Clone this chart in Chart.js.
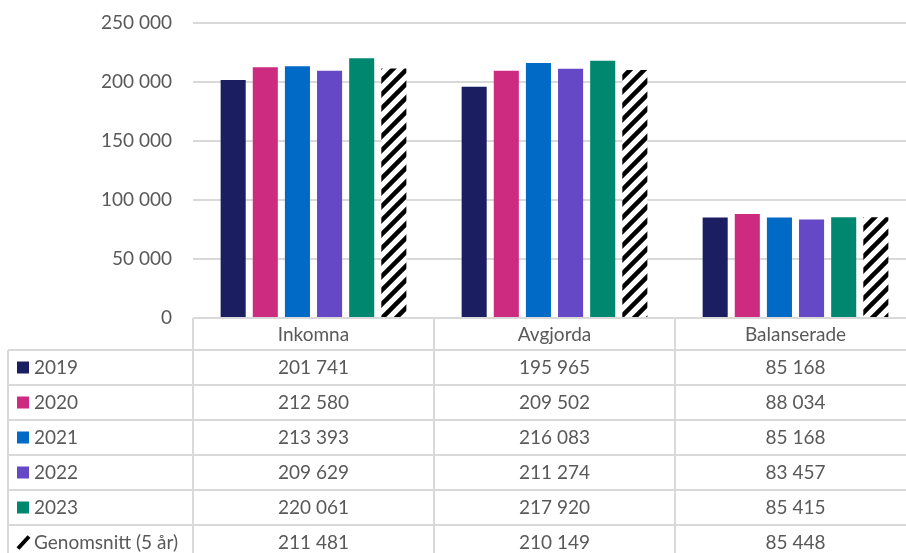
<!DOCTYPE html>
<html>
<head>
<meta charset="utf-8">
<script src="https://cdn.jsdelivr.net/npm/chart.js@4"></script>
<style>
  html, body { margin: 0; padding: 0; background: #fff; overflow: hidden; }
  #wrap { width: 916px; height: 553px; position: relative; }
</style>
</head>
<body>
<div id="wrap"><canvas id="chart"></canvas></div>
<script>
// data
const categories = ["Inkomna", "Avgjorda", "Balanserade"];
const seriesNames = ["2019", "2020", "2021", "2022", "2023", "Genomsnitt (5 år)"];
const v2019 = [201741, 195965, 85168];
const v2020 = [212580, 209502, 88034];
const v2021 = [213393, 216083, 85168];
const v2022 = [209629, 211274, 83457];
const v2023 = [220061, 217920, 85415];
const vAvg = [211481, 210149, 85448];
const yMax = 250000;
const yStep = 50000;

const textColor = "#595959";
const lineColor = "#d9d9d9";
const fontFamily = "Lato, 'Open Sans', sans-serif";
const fontSize = 19;

function fmt(n) {
  return String(Math.round(n)).replace(/\B(?=(\d{3})+(?!\d))/g, " ");
}

// diagonal hatch for the average series
function makeHatch() {
  const s = 14;
  const c = document.createElement("canvas");
  c.width = s; c.height = s;
  const g = c.getContext("2d");
  g.fillStyle = "#fff";
  g.fillRect(0, 0, s, s);
  g.strokeStyle = "#000";
  g.lineWidth = 4.5;
  g.beginPath();
  g.moveTo(-s / 2, s / 2); g.lineTo(s / 2, -s / 2);
  g.moveTo(0, s); g.lineTo(s, 0);
  g.moveTo(s / 2, s * 1.5); g.lineTo(s * 1.5, s / 2);
  g.stroke();
  return g.createPattern(c, "repeat");
}
const hatch = makeHatch();

const colors = ["#1b1f62", "#cd2b7f", "#006ac6", "#6448c5", "#008770", hatch];
const values = [v2019, v2020, v2021, v2022, v2023, vAvg];

const datasets = seriesNames.map((name, i) => ({
  label: name,
  data: values[i],
  backgroundColor: colors[i],
  borderWidth: 0,
  categoryPercentage: 0.8,
  barPercentage: 0.78,
}));

/* ---------------------------------------------------
    data table under the plot
----------------------------------------------------- */
const dataTable = {
  id: "dataTable",
  afterDraw(chart) {
    const ctx = chart.ctx;
    const area = chart.chartArea;
    const xs = chart.scales.x;
    const colW = (xs.right - xs.left) / categories.length;
    const top = area.bottom;
    const headH = 32;
    const rowH = 35;
    const leftX = 8;
    const bodyTop = top + headH;
    const bottom = bodyTop + rowH * seriesNames.length;

    ctx.save();
    ctx.strokeStyle = lineColor;
    ctx.lineWidth = 2;
    ctx.beginPath();
    // vertical lines of the value columns
    for (let c = 0; c <= categories.length; c++) {
      const x = xs.left + colW * c;
      ctx.moveTo(x, top);
      ctx.lineTo(x, bottom);
    }
    // left legend column border
    ctx.moveTo(leftX, bodyTop);
    ctx.lineTo(leftX, bottom);
    // row lines
    for (let r = 0; r <= seriesNames.length; r++) {
      const y = bodyTop + rowH * r;
      ctx.moveTo(leftX, y);
      ctx.lineTo(xs.right, y);
    }
    ctx.stroke();

    ctx.fillStyle = textColor;
    ctx.font = fontSize + "px " + fontFamily;
    ctx.textBaseline = "middle";
    ctx.textAlign = "center";
    categories.forEach((cat, c) => {
      const cx = xs.getPixelForValue(c);
      ctx.fillText(cat, cx, top + headH / 2 + 1);
    });

    seriesNames.forEach((name, r) => {
      const cy = bodyTop + rowH * r + rowH / 2;
      // legend key
      if (r < 5) {
        ctx.fillStyle = colors[r];
        ctx.fillRect(17, cy - 6, 12, 12);
      } else {
        ctx.strokeStyle = "#000";
        ctx.lineWidth = 4;
        ctx.beginPath();
        ctx.moveTo(18, cy + 6);
        ctx.lineTo(29, cy - 6);
        ctx.stroke();
      }
      ctx.fillStyle = textColor;
      ctx.textAlign = "left";
      ctx.fillText(name, 34, cy);
      ctx.textAlign = "center";
      values[r].forEach((v, c) => {
        ctx.fillText(fmt(v), xs.getPixelForValue(c), cy);
      });
    });
    ctx.restore();
  },
};

new Chart(document.getElementById("chart"), {
  type: "bar",
  data: { labels: categories, datasets: datasets },
  options: {
    responsive: true,
    maintainAspectRatio: false,
    animation: false,
    layout: { padding: { top: 23, bottom: 235, left: 0, right: 0 } },
    plugins: { legend: { display: false }, tooltip: { enabled: false } },
    scales: {
      x: { display: false },
      y: {
        min: 0,
        max: yMax,
        afterFit(scale) { scale.width = 193; },
        border: { display: false },
        grid: {
          color: lineColor,
          lineWidth: 2,
          drawTicks: true,
          tickLength: 21,
          tickColor: "rgba(0,0,0,0)",
        },
        ticks: {
          stepSize: yStep,
          padding: 0,
          color: textColor,
          font: { family: fontFamily, size: fontSize },
          callback: (v) => fmt(v),
        },
      },
    },
  },
  plugins: [dataTable],
});
</script>
</body>
</html>
